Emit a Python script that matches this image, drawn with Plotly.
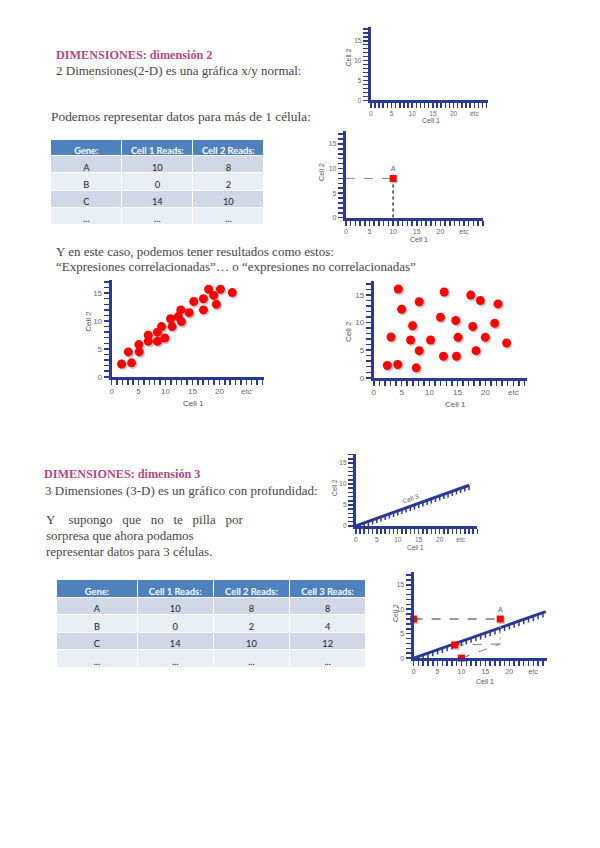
import plotly.graph_objects as go
import numpy as np

W, H = 600, 848


def PX(x):
    return x / W


def PY(y):
    return 1 - y / H


NAVY = "#2b3990"
TICK_FONT = "#666666"
TITLE_COL = "#ad4a84"
BODY_COL = "#444444"
RED = "#ff0000"

# ---------------- data ----------------
table1_header = ["Gene:", "Cell 1 Reads:", "Cell 2 Reads:"]
table2_header = ["Gene:", "Cell 1 Reads:", "Cell 2 Reads:", "Cell 3 Reads:"]
genes = ["A", "B", "C", "..."]
cell1_reads = ["10", "0", "14", "..."]
cell2_reads = ["8", "2", "10", "..."]
cell3_reads = ["8", "4", "12", "..."]

pointA_cell1 = [10]
pointA_cell2 = [8]

corr_x = [1.85, 3.1, 3.7, 5.06, 5.12, 6.8, 6.8, 8.5, 8.5, 9.26, 9.88, 10.93, 11.23,
          12.35, 12.84, 12.96, 14.38, 15.25, 17.04, 17.04, 18.0, 18.95, 19.44, 20.19, 22.4]
corr_y = [2.3, 4.46, 2.5, 5.77, 4.46, 7.44, 6.37, 8.0, 6.37, 9.0, 6.96, 10.4, 9.0,
          10.8, 12.0, 9.9, 11.5, 13.5, 14.0, 12.0, 15.7, 14.6, 13.0, 15.7, 15.1]

uncorr_x = [2.44, 4.29, 3.1, 4.4, 5.0, 6.96, 6.6, 8.15, 7.62, 8.15, 10.18, 11.96, 12.62,
            12.5, 14.7, 15.1, 14.82, 17.38, 17.74, 18.33, 19.1, 20.0, 21.67, 22.26, 23.8]
uncorr_y = [2.22, 2.4, 7.39, 16.1, 12.43, 9.43, 6.85, 4.92, 1.8, 13.8, 6.85, 10.99, 15.56,
            3.9, 10.39, 7.33, 3.9, 15.0, 9.3, 4.92, 14.0, 7.33, 9.9, 13.4, 6.3]

# projected points of the 3-D sketch: (0,Cell2), Cell3 on the depth axis, (Cell1,0), A
proj_x = [0, 8.6, 10, 18.1]
proj_y = [8, 2.7, 0, 8]
proj_corner = [18.1, 2.9]

x_tickvals = [0, 5, 10, 15, 20, 25]
x_ticktext = ["0", "5", "10", "15", "20", "etc"]
y_tickvals = [0, 5, 10, 15]

# chart frames: x pixel span, y pixel span (bottom, top), axis maxima
charts = [
    dict(x=(370, 488), y=(101, 27), xmax=28.4, ymax=18.5, fs=6.5),
    dict(x=(345, 483), y=(219, 132), xmax=29.1, ymax=17.6, fs=7),
    dict(x=(110, 263), y=(379, 282), xmax=28.3, ymax=17.3, fs=8),
    dict(x=(373, 527), y=(380, 283), xmax=27.5, ymax=17.5, fs=8),
    dict(x=(355, 477), y=(529, 457), xmax=29.0, ymax=17.1, fs=6.5),
    dict(x=(413, 547), y=(662, 575), xmax=27.9, ymax=17.7, fs=7),
]

fig = go.Figure()
layout = dict(width=W, height=H, margin=dict(l=0, r=0, t=0, b=0),
              paper_bgcolor="white", plot_bgcolor="rgba(0,0,0,0)", showlegend=False)

for i, c in enumerate(charts, start=1):
    xs = "" if i == 1 else str(i)
    tick_common = dict(showline=True, linecolor=NAVY, linewidth=3, ticks="outside", ticklen=5,
                       tickwidth=1.5, tickcolor=NAVY, showgrid=False, zeroline=False,
                       fixedrange=True,
                       tickfont=dict(size=c["fs"], color=TICK_FONT, family="Liberation Sans"),
                       minor=dict(tickmode="linear", tick0=0, dtick=1, ticks="outside",
                                  ticklen=5, tickwidth=1.5, tickcolor=NAVY, showgrid=False))
    layout["xaxis" + xs] = dict(domain=[PX(c["x"][0]), PX(c["x"][1])], range=[0, c["xmax"]],
                                anchor="y" + xs, tickmode="array", tickvals=x_tickvals,
                                ticktext=x_ticktext, **tick_common)
    layout["yaxis" + xs] = dict(domain=[PY(c["y"][0]), PY(c["y"][1])], range=[0, c["ymax"]],
                                anchor="x" + xs, tickmode="array", tickvals=y_tickvals,
                                **tick_common)
    fig.add_trace(go.Scatter(x=[None], y=[None], xaxis="x" + xs, yaxis="y" + xs,
                             mode="markers", hoverinfo="skip"))


def depth_axis(idx, end, hang):
    ax = str(idx)
    fig.add_trace(go.Scatter(x=[0, end[0]], y=[0, end[1]], mode="lines",
                             line=dict(color=NAVY, width=3), xaxis="x" + ax, yaxis="y" + ax,
                             cliponaxis=False, hoverinfo="skip"))
    slope = end[1] / end[0]
    cx, cy = [], []
    for k in range(1, int(end[0]) + 1):
        cx += [k, k, None]
        cy += [k * slope, k * slope - hang, None]
    fig.add_trace(go.Scatter(x=cx, y=cy, mode="lines", line=dict(color=NAVY, width=1.5),
                             xaxis="x" + ax, yaxis="y" + ax, cliponaxis=False, hoverinfo="skip"))


def shadow(xv, yv, ax, size, symbol="circle"):
    fig.add_trace(go.Scatter(x=np.array(xv) + 0.25, y=np.array(yv) - 0.3, mode="markers",
                             marker=dict(color="rgba(0,0,0,0.22)", size=size, symbol=symbol),
                             xaxis="x" + ax, yaxis="y" + ax, cliponaxis=False, hoverinfo="skip"))


# chart 2: single point A
fig.add_trace(go.Scatter(x=[0, pointA_cell1[0]], y=[pointA_cell2[0]] * 2, mode="lines",
                         line=dict(color="#888888", width=1, dash="dash"), xaxis="x2", yaxis="y2"))
fig.add_trace(go.Scatter(x=[pointA_cell1[0]] * 2, y=[pointA_cell2[0], 0], mode="lines",
                         line=dict(color="#333333", width=1.5, dash="dot"), xaxis="x2", yaxis="y2"))
shadow(pointA_cell1, pointA_cell2, "2", 7, "square")
fig.add_trace(go.Scatter(x=pointA_cell1, y=pointA_cell2, mode="markers+text", text=["A"],
                         textposition="top center",
                         textfont=dict(size=7, color="#3a5a9a", family="Liberation Sans"),
                         marker=dict(color=RED, size=7, symbol="square"),
                         xaxis="x2", yaxis="y2"))

# chart 3: correlated
shadow(corr_x, corr_y, "3", 9)
fig.add_trace(go.Scatter(x=corr_x, y=corr_y, mode="markers",
                         marker=dict(color=RED, size=9), xaxis="x3", yaxis="y3", cliponaxis=False))

# chart 4: uncorrelated
shadow(uncorr_x, uncorr_y, "4", 9)
fig.add_trace(go.Scatter(x=uncorr_x, y=uncorr_y, mode="markers",
                         marker=dict(color=RED, size=9), xaxis="x4", yaxis="y4", cliponaxis=False))

# chart 5: depth axis sketch
depth_axis(5, (27.0, 9.7), 1.1)

# chart 6: 3-D point construction
depth_axis(6, (27.6, 9.5), 1.0)
fig.add_trace(go.Scatter(x=[proj_x[0], proj_x[3]], y=[proj_y[0], proj_y[3]], mode="lines",
                         line=dict(color="#333333", width=1.2, dash="dash"), xaxis="x6", yaxis="y6",
                         cliponaxis=False))
fig.add_trace(go.Scatter(x=[proj_x[1], proj_corner[0], None, proj_x[2], proj_corner[0]],
                         y=[proj_y[1], proj_corner[1], None, proj_y[2], proj_corner[1]],
                         mode="lines", line=dict(color="#777777", width=1, dash="dash"),
                         xaxis="x6", yaxis="y6", cliponaxis=False))
fig.add_trace(go.Scatter(x=[proj_x[3], proj_corner[0]], y=[proj_y[3], proj_corner[1]],
                         mode="lines", line=dict(color="#bbbbbb", width=1, dash="dot"),
                         xaxis="x6", yaxis="y6", cliponaxis=False))
shadow(proj_x, proj_y, "6", 7, "square")
fig.add_trace(go.Scatter(x=proj_x, y=proj_y, mode="markers+text", text=["", "", "", "A"],
                         textposition="top center",
                         textfont=dict(size=7, color="#3a5a9a", family="Liberation Sans"),
                         marker=dict(color=RED, size=7, symbol="square"),
                         xaxis="x6", yaxis="y6", cliponaxis=False))

# ---------------- tables ----------------
HDR = "#4f81bd"
ROWS = ["#d0d8e8", "#e9edf4", "#d0d8e8", "#e9edf4"]


def table(headers, columns, xpx, ypx, widths, hh, ch, size):
    fig.add_trace(go.Table(
        domain=dict(x=[PX(xpx[0]), PX(xpx[1])], y=[PY(ypx[1]), PY(ypx[0])]),
        columnwidth=widths,
        header=dict(values=headers, fill_color=HDR, line=dict(color="white", width=1),
                    height=hh, align="center",
                    font=dict(color="white", size=size, family="Lato", weight="bold")),
        cells=dict(values=columns, fill_color=[ROWS] * len(headers),
                   line=dict(color="white", width=1), height=ch, align="center",
                   font=dict(color="#222222", size=size, family="Lato"))))


table(table1_header, [genes, cell1_reads, cell2_reads], (49, 263), (140, 240),
      [1, 1, 1], 16.5, 17.2, 9.3)
table(table2_header, [genes, cell1_reads, cell2_reads, cell3_reads], (55, 366), (583, 690),
      [1, 0.95, 0.95, 0.95], 17.5, 17.5, 9.3)

# ---------------- text ----------------
ann = []


def text(x, y, s, size=13, color=BODY_COL, bold=False, family="Liberation Serif",
         anchor="left", angle=0):
    ann.append(dict(x=PX(x), y=PY(y), xref="paper", yref="paper", showarrow=False,
                    text="<b>%s</b>" % s if bold else s, xanchor=anchor, yanchor="middle",
                    textangle=angle, font=dict(size=size, color=color, family=family)))


text(52, 55, "DIMENSIONES: dimensión 2", 12.2, TITLE_COL, bold=True)
text(52, 71, "2 Dimensiones(2-D) es una gráfica x/y normal:")
text(47, 117, "Podemos representar datos para más de 1 célula:", 13.4)
text(52, 253, "Y en este caso, podemos tener resultados como estos:")
text(52, 268, "“Expresiones correlacionadas”… o “expresiones no correlacionadas”")
text(40, 477, "DIMENSIONES: dimensión 3", 12.2, TITLE_COL, bold=True)
text(41, 493, "3 Dimensiones (3-D) es un gráfico con profundidad:")
text(42, 523, "Y&nbsp;&nbsp;&nbsp;&nbsp;supongo&nbsp;&nbsp;&nbsp;que&nbsp;&nbsp;&nbsp;no&nbsp;&nbsp;&nbsp;te&nbsp;&nbsp;&nbsp;pilla&nbsp;&nbsp;&nbsp;por")
text(42, 539, "sorpresa que ahora podamos")
text(42, 555, "representar datos para 3 células.")

# axis titles
lab = dict(size=7, color="#555555", family="Liberation Sans", anchor="center")
text(348, 58, "Cell 2", angle=-90, **lab)
text(430, 121, "Cell 1", **lab)
text(321, 173, "Cell 2", angle=-90, **lab)
text(418, 241, "Cell 1", **lab)
text(86, 323, "Cell 2", angle=-90, **dict(lab, size=8))
text(192, 406, "Cell 1", **dict(lab, size=8))
text(347, 333, "Cell 2", angle=-90, **dict(lab, size=8))
text(455, 407, "Cell 1", **dict(lab, size=8))
text(333, 490, "Cell 2", angle=-90, **dict(lab, size=6.5))
text(415, 551, "Cell 1", **dict(lab, size=6.5))
text(410, 501, "Cell 3", angle=-20, **dict(lab, size=6.5))
text(395, 617, "Cell 2", angle=-90, **lab)
text(485, 686, "Cell 1", **lab)

layout["annotations"] = ann
fig.update_layout(**layout)
fig.write_html("out.html", config={"displayModeBar": False, "staticPlot": True},
               post_script="document.body.style.margin='0';document.body.style.padding='0';"
                           "document.documentElement.style.overflow='hidden';")
